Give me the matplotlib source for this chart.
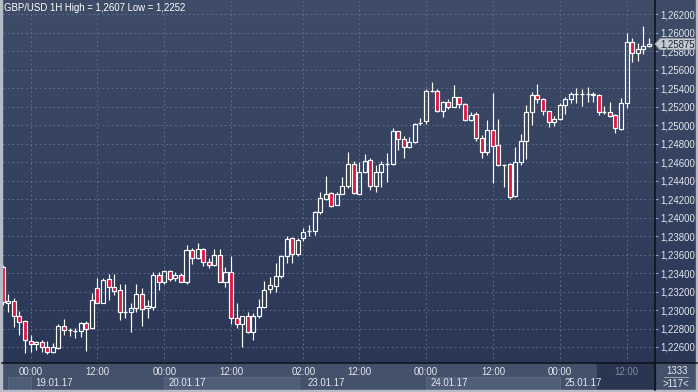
import numpy as np
import matplotlib.pyplot as plt
import matplotlib.transforms as mtransforms
from matplotlib.patches import Rectangle, Polygon
from matplotlib.lines import Line2D

W, H = 698, 392

# --- data: GBP/USD hourly candles, bar index -5 .. 111 ---
bars = list(range(-5, 112))
opens = [1.23465, 1.23076, 1.23097, 1.22935, 1.22881, 1.22665, 1.22632, 1.22654, 1.22600, 1.22546,
         1.22589, 1.22827, 1.22784, 1.22773, 1.22773, 1.22859, 1.22805, 1.23238, 1.23076, 1.23335,
         1.23249, 1.23216, 1.22978, 1.22978, 1.23022, 1.23173, 1.23022, 1.23032, 1.23378, 1.23303,
         1.23421, 1.23346, 1.23378, 1.23303, 1.23649, 1.23562, 1.23660, 1.23519, 1.23486, 1.23595,
         1.23303, 1.23411, 1.22914, 1.22849, 1.22935, 1.22762, 1.22935, 1.23032, 1.23227, 1.23260,
         1.23368, 1.23584, 1.23778, 1.23605, 1.23778, 1.23854, 1.23854, 1.24059, 1.24200, 1.24265,
         1.24135, 1.24254, 1.24340, 1.24578, 1.24254, 1.24492, 1.24622, 1.24340, 1.24492, 1.24578,
         1.24578, 1.24935, 1.24849, 1.24762, 1.24816, 1.25022, 1.25043, 1.25368, 1.25368, 1.25151,
         1.25249, 1.25195, 1.25303, 1.25227, 1.25054, 1.25119, 1.24859, 1.24708, 1.24946, 1.24784,
         1.24567, 1.24578, 1.24232, 1.24600, 1.24827, 1.25141, 1.25330, 1.25281, 1.25151, 1.25032,
         1.25065, 1.25216, 1.25281, 1.25335, 1.25340, 1.25335, 1.25340, 1.25330, 1.25141, 1.25141,
         1.25108, 1.24957, 1.25238, 1.25897, 1.25778, 1.25822, 1.25854]
highs = [1.23486, 1.23173, 1.23130, 1.22989, 1.22892, 1.22730, 1.22660, 1.22676, 1.22665, 1.22643,
         1.22849, 1.22903, 1.22805, 1.22805, 1.22870, 1.22881, 1.23184, 1.23346, 1.23346, 1.23389,
         1.23389, 1.23281, 1.23281, 1.23076, 1.23281, 1.23238, 1.23108, 1.23411, 1.23411, 1.23432,
         1.23432, 1.23411, 1.23400, 1.23703, 1.23670, 1.23724, 1.23665, 1.23562, 1.23660, 1.23660,
         1.23465, 1.23584, 1.23076, 1.22940, 1.22978, 1.22968, 1.23119, 1.23314, 1.23357, 1.23508,
         1.23595, 1.23800, 1.23785, 1.23778, 1.23887, 1.23919, 1.24070, 1.24276, 1.24449, 1.24276,
         1.24276, 1.24438, 1.24708, 1.24611, 1.24600, 1.24686, 1.24643, 1.24567, 1.24611, 1.24697,
         1.24968, 1.24940, 1.24881, 1.24870, 1.25022, 1.25076, 1.25389, 1.25465, 1.25389, 1.25255,
         1.25281, 1.25432, 1.25308, 1.25238, 1.25141, 1.25141, 1.24892, 1.25054, 1.25346, 1.25065,
         1.24575, 1.24585, 1.24762, 1.24903, 1.25216, 1.25357, 1.25443, 1.25290, 1.25155, 1.25097,
         1.25238, 1.25303, 1.25357, 1.25400, 1.25389, 1.25411, 1.25357, 1.25335, 1.25205, 1.25249,
         1.25115, 1.25292, 1.25995, 1.25941, 1.25886, 1.26070, 1.25941]
lows = [1.23054, 1.22978, 1.22816, 1.22730, 1.22530, 1.22546, 1.22568, 1.22546, 1.22520, 1.22535,
        1.22578, 1.22730, 1.22719, 1.22697, 1.22708, 1.22557, 1.22795, 1.23076, 1.23076, 1.23108,
        1.23162, 1.22892, 1.22914, 1.22762, 1.22978, 1.22827, 1.22914, 1.23000, 1.23216, 1.23281,
        1.23314, 1.23314, 1.23298, 1.23281, 1.23497, 1.23555, 1.23476, 1.23454, 1.23480, 1.23298,
        1.23249, 1.22849, 1.22805, 1.22600, 1.22751, 1.22676, 1.22914, 1.23025, 1.23184, 1.23195,
        1.23346, 1.23508, 1.23508, 1.23584, 1.23746, 1.23800, 1.23811, 1.24038, 1.24189, 1.24113,
        1.24130, 1.24250, 1.24319, 1.24254, 1.24250, 1.24485, 1.24297, 1.24276, 1.24330, 1.24384,
        1.24570, 1.24730, 1.24643, 1.24751, 1.24806, 1.25000, 1.25011, 1.25357, 1.25141, 1.25092,
        1.25173, 1.25190, 1.25184, 1.25043, 1.25043, 1.24827, 1.24643, 1.24676, 1.24373, 1.24560,
        1.24330, 1.24200, 1.24225, 1.24567, 1.24632, 1.25000, 1.25238, 1.25108, 1.24978, 1.24989,
        1.25054, 1.25119, 1.25238, 1.25238, 1.25205, 1.25249, 1.25249, 1.25108, 1.25119, 1.25086,
        1.24914, 1.24946, 1.25184, 1.25681, 1.25692, 1.25767, 1.25843]
closes = [1.23087, 1.23097, 1.22935, 1.22870, 1.22676, 1.22632, 1.22654, 1.22600, 1.22546, 1.22600,
          1.22827, 1.22784, 1.22784, 1.22773, 1.22859, 1.22795, 1.23108, 1.23076, 1.23324, 1.23249,
          1.23205, 1.22978, 1.22978, 1.23022, 1.23173, 1.23011, 1.23043, 1.23378, 1.23303, 1.23421,
          1.23335, 1.23378, 1.23303, 1.23649, 1.23562, 1.23660, 1.23519, 1.23486, 1.23595, 1.23303,
          1.23411, 1.22914, 1.22849, 1.22935, 1.22762, 1.22935, 1.23032, 1.23216, 1.23270, 1.23368,
          1.23584, 1.23768, 1.23605, 1.23757, 1.23843, 1.23854, 1.24059, 1.24211, 1.24254, 1.24124,
          1.24254, 1.24340, 1.24578, 1.24265, 1.24492, 1.24611, 1.24340, 1.24492, 1.24578, 1.24578,
          1.24935, 1.24849, 1.24762, 1.24816, 1.25011, 1.25022, 1.25368, 1.25368, 1.25151, 1.25249,
          1.25195, 1.25303, 1.25227, 1.25054, 1.25108, 1.24859, 1.24708, 1.24946, 1.24773, 1.24567,
          1.24567, 1.24222, 1.24600, 1.24827, 1.25141, 1.25330, 1.25281, 1.25151, 1.25032, 1.25065,
          1.25216, 1.25281, 1.25335, 1.25340, 1.25335, 1.25340, 1.25330, 1.25141, 1.25141, 1.25097,
          1.24968, 1.25238, 1.25897, 1.25778, 1.25822, 1.25854, 1.25875]

tick_bars = [0, 12, 24, 36, 49, 59, 71, 83, 95, 107]
tick_labels = ['00:00', '12:00', '00:00', '12:00', '02:00', '12:00', '00:00', '12:00', '00:00', '12:00']
date_bars = [0, 24, 49, 71, 95]
date_labels = ['19.01.17', '20.01.17', '23.01.17', '24.01.17', '25.01.17']
box_spans = [(-4, 0), (24, 48.2), (71, 95)]
price_ticks = np.arange(1.226, 1.2621, 0.002)
last_price = 1.25875
title = 'GBP/USD 1H High = 1,2607 Low = 1,2252'

red = '#e0173f'
txt = '#e4e8ef'
plt.rcParams['font.family'] = ['Liberation Sans', 'DejaVu Sans']
fs = 6.9


def fx(px):
    return px / W


def fy(py):
    return 1 - py / H


fig = plt.figure(figsize=(W / 100, H / 100), dpi=100)

# background gradient over the whole figure
bg = fig.add_axes([0, 0, 1, 1], zorder=-10)
top = np.array([0x3e, 0x4c, 0x68]) / 255
bot = np.array([0x28, 0x35, 0x55]) / 255
g = np.linspace(0, 1, 256)[:, None, None]
bg.imshow(top + (bot - top) * g, aspect='auto', extent=[0, 1, 0, 1])
bg.add_patch(Rectangle((0, 0), 1, fy(363), color='#44516b'))
bg.add_patch(Rectangle((fx(597), fy(390)), fx(655) - fx(597), fy(363) - fy(390), color='#2a3552'))
bg.set_xlim(0, 1)
bg.set_ylim(0, 1)
bg.axis('off')

# main price axes
ax = fig.add_axes([fx(3), fy(363), fx(655) - fx(3), fy(1) - fy(363)])
ax.patch.set_visible(False)
for s in ax.spines.values():
    s.set_visible(False)

bw = 0.72
for x, o, h, l, c in zip(bars, opens, highs, lows, closes):
    lo_b, hi_b = min(o, c), max(o, c)
    ax.vlines(x, l, lo_b, color='white', lw=0.85, zorder=3)
    ax.vlines(x, hi_b, h, color='white', lw=0.85, zorder=3)
    if hi_b - lo_b < 0.00008:
        ax.hlines((o + c) / 2, x - bw / 2, x + bw / 2, color='white', lw=0.95, zorder=3)
    else:
        face = red if c < o else 'none'
        ax.add_patch(Rectangle((x - bw / 2, lo_b), bw, hi_b - lo_b, facecolor=face,
                               edgecolor='white', lw=0.85, zorder=3))

ax.set_xlim(-4.94, 112.1)
ax.set_ylim(1.22427, 1.26341)
ax.set_yticks(price_ticks)
ax.set_yticklabels([f'{v:.5f}'.replace('.', ',') for v in price_ticks])
ax.set_xticks(tick_bars)
ax.set_xticklabels(tick_labels)
ax.yaxis.tick_right()
ax.grid(True, color='#5f6f8e', ls=(0, (2, 3)), lw=0.65)
ax.set_axisbelow(True)
ax.tick_params(axis='y', length=2, width=0.8, color='#8aa0c8', labelcolor=txt, labelsize=fs, pad=2)
ax.tick_params(axis='x', length=0, labelcolor=txt, labelsize=fs, pad=3)
ax.get_xticklabels()[-1].set_color('#7c89a2')

# date row
trans = mtransforms.blended_transform_factory(ax.transData, fig.transFigure)
for x0, x1 in box_spans:
    fig.add_artist(Rectangle((x0, fy(390)), x1 - x0, fy(377) - fy(390), transform=trans,
                             facecolor='#4f5d78', edgecolor='#5e6c87', lw=0.6))
for b, lab in zip(date_bars, date_labels):
    fig.text(b + 0.8, fy(383), lab, transform=trans, ha='left', va='center', color=txt, fontsize=fs)

# current price marker
tp = mtransforms.blended_transform_factory(fig.transFigure, ax.transData)
hh = 0.000595
fig.add_artist(Polygon([(fx(655), last_price), (fx(660), last_price + hh), (fx(695), last_price + hh),
                        (fx(695), last_price - hh), (fx(660), last_price - hh)], closed=True,
                       transform=tp, facecolor='#c5c9d0', edgecolor='#9aa0aa', lw=0.6, zorder=5))
fig.text(fx(677.5), last_price, f'{last_price:.5f}'.replace('.', ','), transform=tp, ha='center',
         va='center', color='#1c2438', fontsize=fs, zorder=6)

# corner cell
fig.text(fx(677), fy(371), '1333', ha='center', va='center', color=txt, fontsize=fs)
fig.add_artist(Line2D([fx(664), fx(688)], [fy(377)] * 2, color='#aab3c2', lw=0.6))
fig.text(fx(676), fy(384), '>117<', ha='center', va='center', color=txt, fontsize=fs)

# separators and frame
fig.add_artist(Line2D([fx(655)] * 2, [fy(0), fy(390)], color='#0b0f18', lw=1.1))
fig.add_artist(Line2D([fx(2), fx(697)], [fy(363)] * 2, color='#0b0f18', lw=1.1))
for r in [(0, 0, fx(2), 1), (fx(696), 0, fx(2), 1), (0, 0, 1, fy(390))]:
    fig.add_artist(Rectangle(r[:2], r[2], r[3], color='#b5bcc8'))

fig.text(fx(4), fy(8), title, color='white', fontsize=fs, ha='left', va='center')

fig.savefig('out.png', dpi=100)
